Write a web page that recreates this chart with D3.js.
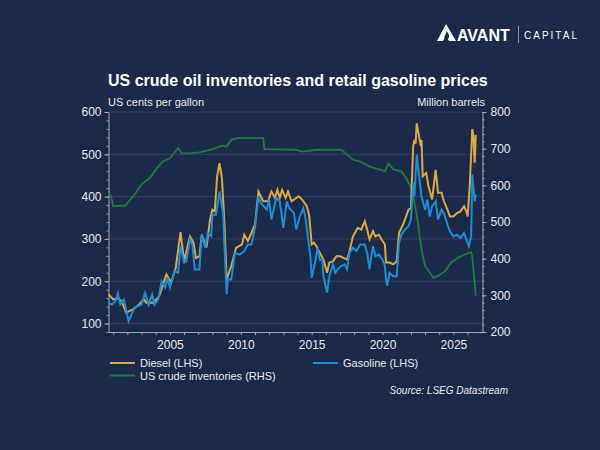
<!DOCTYPE html>
<html lang="en">
<head>
    <meta charset="UTF-8">
    <title>US crude oil inventories and retail gasoline prices</title>
    <script src="https://d3js.org/d3.v7.min.js"></script>
    <style>
        body {
            margin: 0;
            background: #1b2a48;
        }
        svg text {
            font-family: "Liberation Sans", Arial, sans-serif;
        }
        .axis path, .axis line {
            stroke: #a3abbb;
        }
        .axis text {
            fill: #e6e9ee;
            font-size: 12px;
        }
    </style>
</head>
<body>
    <svg width="600" height="450"></svg>

    <script>
        // Diesel retail price, US cents per gallon (LHS)
        const diesel = [
            ["2000-09",169],["2001-01",157],["2001-05",160],["2001-08",153],["2001-12",126],["2002-06",134],
            ["2002-11",145],["2003-03",158],["2003-05",149],["2003-11",149],["2004-04",165],["2004-10",216],
            ["2005-02",197],["2005-06",232],["2005-10",316],["2006-01",247],["2006-04",283],["2006-06",306],
            ["2006-09",291],["2006-11",255],["2007-02",259],["2007-04",310],["2007-08",280],["2007-11",346],
            ["2008-01",369],["2008-03",365],["2008-05",448],["2008-07",479],["2008-09",444],["2008-11",346],
            ["2009-01",205],["2009-03",220],["2009-05",236],["2009-09",279],["2010-02",287],["2010-04",310],
            ["2010-07",295],["2010-10",314],["2011-01",334],["2011-04",412],["2011-08",389],["2011-12",389],
            ["2012-03",412],["2012-06",397],["2012-08",416],["2012-10",397],["2012-12",416],["2013-03",397],
            ["2013-05",412],["2013-08",389],["2013-10",393],["2014-02",401],["2014-05",393],["2014-09",377],
            ["2014-11",353],["2015-01",287],["2015-03",291],["2015-05",283],["2015-08",267],["2015-11",251],
            ["2016-02",220],["2016-04",244],["2016-07",247],["2016-10",259],["2017-01",259],["2017-04",255],
            ["2017-07",251],["2017-09",271],["2017-12",306],["2018-04",326],["2018-07",322],["2018-10",342],
            ["2018-12",322],["2019-02",299],["2019-05",318],["2019-07",306],["2019-10",310],["2020-01",295],
            ["2020-03",287],["2020-04",244],["2020-07",244],["2020-10",240],["2021-01",247],["2021-03",314],
            ["2021-07",338],["2021-11",369],["2022-01",373],["2022-03",518],["2022-04",534],["2022-05",525],
            ["2022-06",573],["2022-09",526],["2022-10",534],["2022-11",448],["2023-02",456],["2023-04",424],
            ["2023-07",393],["2023-10",463],["2023-12",409],["2024-03",409],["2024-05",389],["2024-08",369],
            ["2024-10",353],["2025-01",353],["2025-04",361],["2025-07",365],["2025-10",377],["2025-12",365],
            ["2026-01",353],["2026-03",432],["2026-05",560],["2026-06",545],["2026-07",480],["2026-08",546]
        ];

        // Gasoline retail price, US cents per gallon (LHS)
        const gasoline = [
            ["2000-09",149],["2000-12",145],["2001-03",153],["2001-05",171],["2001-07",145],["2001-10",157],
            ["2002-02",106],["2002-04",118],["2002-07",138],["2002-10",141],["2003-01",145],["2003-04",173],
            ["2003-07",145],["2003-10",169],["2003-12",145],["2004-03",157],["2004-06",200],["2004-09",185],
            ["2004-11",208],["2005-01",185],["2005-05",224],["2005-08",220],["2005-10",283],["2006-01",244],
            ["2006-03",247],["2006-06",299],["2006-08",287],["2006-10",228],["2007-02",228],["2007-04",310],
            ["2007-07",279],["2007-09",314],["2007-12",306],["2008-01",357],["2008-04",357],["2008-07",412],
            ["2008-10",361],["2009-01",169],["2009-02",204],["2009-05",204],["2009-08",267],["2009-12",263],
            ["2010-04",271],["2010-07",287],["2010-10",287],["2011-01",326],["2011-04",401],["2011-06",385],
            ["2011-11",369],["2012-01",393],["2012-03",346],["2012-07",397],["2012-10",389],["2013-01",326],
            ["2013-04",389],["2013-06",373],["2013-10",361],["2013-12",322],["2014-03",353],["2014-06",373],
            ["2014-08",346],["2014-10",299],["2014-12",259],["2015-01",208],["2015-04",244],["2015-06",279],
            ["2015-08",251],["2015-10",251],["2015-11",212],["2016-02",173],["2016-04",212],["2016-07",240],
            ["2016-09",220],["2016-11",228],["2017-02",236],["2017-05",240],["2017-07",228],["2017-09",267],
            ["2017-12",279],["2018-03",271],["2018-06",287],["2018-10",287],["2018-12",267],["2019-02",228],
            ["2019-04",267],["2019-05",283],["2019-07",259],["2019-10",263],["2020-01",251],["2020-03",236],
            ["2020-04",204],["2020-05",189],["2020-07",220],["2020-10",212],["2021-01",212],["2021-03",291],
            ["2021-05",310],["2021-08",322],["2021-11",330],["2022-01",346],["2022-03",432],["2022-04",401],
            ["2022-06",499],["2022-08",448],["2022-10",401],["2023-01",369],["2023-03",393],["2023-05",353],
            ["2023-07",377],["2023-10",389],["2023-12",346],["2024-03",369],["2024-05",361],["2024-08",334],
            ["2024-10",318],["2025-01",306],["2025-04",310],["2025-07",302],["2025-10",314],["2025-12",299],
            ["2026-02",283],["2026-04",306],["2026-05",452],["2026-07",389],["2026-08",405]
        ];

        // US crude inventories, million barrels (RHS)
        const inventories = [
            ["2000-09",575],["2000-11",572],["2001-01",543],["2001-11",545],["2002-06",570],["2003-01",602],
            ["2003-08",620],["2004-02",647],["2004-07",665],["2005-01",674],["2005-08",702],["2005-11",687],
            ["2006-06",688],["2007-02",690],["2007-09",695],["2008-03",701],["2008-09",708],["2009-01",706],
            ["2009-05",724],["2009-10",729],["2011-08",729],["2011-09",699],["2013-11",697],["2014-06",692],
            ["2015-05",697],["2017-02",697],["2017-12",670],["2018-06",665],["2019-02",651],["2019-11",643],
            ["2020-03",638],["2020-06",659],["2020-10",644],["2021-05",638],["2021-09",620],["2022-02",588],
            ["2022-04",556],["2022-07",498],["2022-10",425],["2023-01",380],["2023-05",362],["2023-08",348],
            ["2023-12",353],["2024-06",366],["2024-11",389],["2025-05",403],["2025-11",412],["2026-04",418],
            ["2026-05",407],["2026-08",299]
        ];

        const leftTicks = [100, 200, 300, 400, 500, 600];
        const rightTicks = [200, 300, 400, 500, 600, 700, 800];
        const yearLabels = [2005, 2010, 2015, 2020, 2025];

        const parse = d3.timeParse("%Y-%m");

        // Plot area
        const plotLeft = 108.5, plotRight = 482.5, plotTop = 112, plotBottom = 332;

        const x = d3.scaleTime()
            .domain([new Date(2000, 8, 1), new Date(2027, 0, 20)])
            .range([plotLeft, plotRight]);
        const yL = d3.scaleLinear().domain([80, 600]).range([plotBottom, plotTop]);
        const yR = d3.scaleLinear().domain([200, 800]).range([plotBottom, plotTop]);

        const svg = d3.select("svg");

        svg.append("rect")
            .attr("width", 600).attr("height", 450)
            .attr("fill", "#1b2a48");

        // Logo
        const logo = svg.append("g");
        logo.append("path")
            .attr("d", "M446,24 L456,41 L449,41 L446,36 L443,41 L437,41 Z")
            .attr("fill", "#ffffff");
        logo.append("path")
            .attr("d", "M446.5,31 C449,34 450,37 448,39 C446,40.5 443.5,39 444.5,36.5 C445,35 446.5,33 446.5,31 Z")
            .attr("fill", "#1b2a48");
        logo.append("text")
            .attr("x", 457).attr("y", 41)
            .attr("font-size", 16).attr("font-weight", "bold")
            .attr("fill", "#ffffff")
            .text("AVANT");
        logo.append("line")
            .attr("x1", 518.5).attr("x2", 518.5).attr("y1", 26).attr("y2", 43)
            .attr("stroke", "#8c94a6");
        logo.append("text")
            .attr("x", 524).attr("y", 39)
            .attr("font-size", 10)
            .attr("letter-spacing", 2)
            .attr("fill", "#ffffff")
            .text("CAPITAL");

        // Titles
        svg.append("text")
            .attr("x", 108).attr("y", 86)
            .attr("font-size", 16).attr("font-weight", "bold")
            .attr("fill", "#ffffff")
            .text("US crude oil inventories and retail gasoline prices");
        svg.append("text")
            .attr("x", 108).attr("y", 106)
            .attr("font-size", 11).attr("fill", "#e6e9ee")
            .text("US cents per gallon");
        svg.append("text")
            .attr("x", 485).attr("y", 106)
            .attr("text-anchor", "end")
            .attr("font-size", 11).attr("fill", "#e6e9ee")
            .text("Million barrels");

        // Gridlines
        svg.append("g")
            .selectAll("line")
            .data(leftTicks)
            .join("line")
            .attr("x1", plotLeft).attr("x2", plotRight)
            .attr("y1", d => yL(d)).attr("y2", d => yL(d))
            .attr("stroke", "#33436a")
            .attr("stroke-width", 1);

        // Minor ticks
        svg.append("g")
            .attr("class", "axis")
            .attr("transform", `translate(${plotLeft},0)`)
            .call(d3.axisLeft(yL).tickValues(d3.range(80, 601, 20)).tickSize(2).tickFormat(""))
            .call(g => g.select(".domain").remove());
        svg.append("g")
            .attr("class", "axis")
            .attr("transform", `translate(${plotRight},0)`)
            .call(d3.axisRight(yR).tickValues(d3.range(200, 801, 20)).tickSize(2).tickFormat(""))
            .call(g => g.select(".domain").remove());

        // Axes
        svg.append("g")
            .attr("class", "axis")
            .attr("transform", `translate(${plotLeft},0)`)
            .call(d3.axisLeft(yL).tickValues(leftTicks).tickSize(4).tickSizeOuter(0).tickPadding(3));
        svg.append("g")
            .attr("class", "axis")
            .attr("transform", `translate(${plotRight},0)`)
            .call(d3.axisRight(yR).tickValues(rightTicks).tickSize(4).tickSizeOuter(0).tickPadding(4));

        const years = d3.range(2001, 2027).map(yv => new Date(yv, 0, 1));
        svg.append("g")
            .attr("class", "axis")
            .attr("transform", `translate(0,${plotBottom})`)
            .call(d3.axisBottom(x).tickValues(years).tickSize(3).tickSizeOuter(0).tickPadding(5)
                .tickFormat(d => yearLabels.includes(d.getFullYear()) ? d.getFullYear() : ""));

        // Lines
        const lineL = d3.line().x(d => x(parse(d[0]))).y(d => yL(d[1]));
        const lineR = d3.line().x(d => x(parse(d[0]))).y(d => yR(d[1]));

        svg.append("path")
            .datum(inventories)
            .attr("d", lineR)
            .attr("fill", "none")
            .attr("stroke", "#1d7a3b")
            .attr("stroke-width", 1.8);
        svg.append("path")
            .datum(diesel)
            .attr("d", lineL)
            .attr("fill", "none")
            .attr("stroke", "#dca842")
            .attr("stroke-width", 2);
        svg.append("path")
            .datum(gasoline)
            .attr("d", lineL)
            .attr("fill", "none")
            .attr("stroke", "#1b8ed6")
            .attr("stroke-width", 2);

        // Legend
        const legend = [
            { name: "Diesel (LHS)", color: "#dca842", x: 110, y: 363 },
            { name: "Gasoline (LHS)", color: "#1b8ed6", x: 313, y: 363 },
            { name: "US crude inventories (RHS)", color: "#1d7a3b", x: 110, y: 375.5 }
        ];
        const lg = svg.append("g").selectAll("g").data(legend).join("g");
        lg.append("line")
            .attr("x1", d => d.x).attr("x2", d => d.x + 25)
            .attr("y1", d => d.y).attr("y2", d => d.y)
            .attr("stroke", d => d.color)
            .attr("stroke-width", 2);
        lg.append("text")
            .attr("x", d => d.x + 30).attr("y", d => d.y + 4)
            .attr("font-size", 11)
            .attr("fill", "#e6e9ee")
            .text(d => d.name);

        svg.append("text")
            .attr("x", 508).attr("y", 394)
            .attr("text-anchor", "end")
            .attr("font-size", 10).attr("font-style", "italic")
            .attr("fill", "#e6e9ee")
            .text("Source: LSEG Datastream");
    </script>
</body>
</html>
